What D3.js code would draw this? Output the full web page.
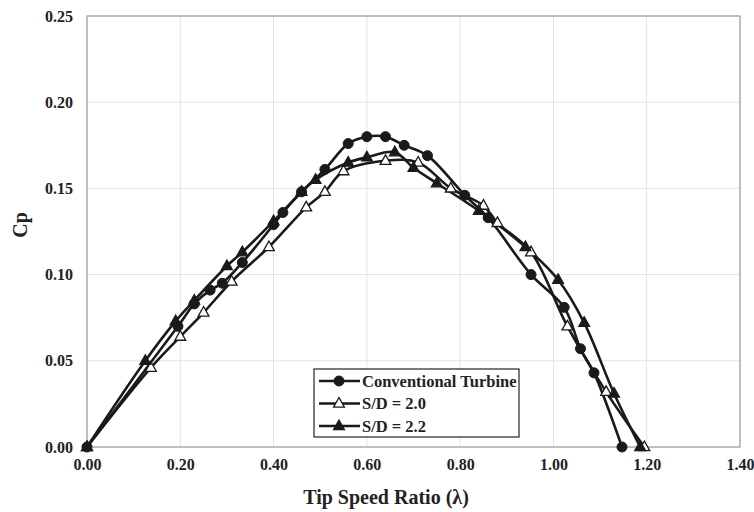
<!DOCTYPE html>
<html>
<head>
<meta charset="utf-8">
<script src="https://d3js.org/d3.v7.min.js"></script>
<style>
	body { margin: 0; background: #fff; }
	svg text { font-family: "Liberation Serif", "Times New Roman", serif; font-weight: bold; fill: #222; }
</style>
</head>
<body>
<div id="chart"></div>
<script>
// データ
const convLambda = [0, 0.195, 0.23, 0.264, 0.29, 0.333, 0.40, 0.42, 0.46, 0.51, 0.56, 0.60, 0.64, 0.68, 0.73, 0.81, 0.86, 0.952, 1.023, 1.058, 1.087, 1.147];
const convCp     = [0, 0.070, 0.083, 0.091, 0.095, 0.107, 0.129, 0.136, 0.148, 0.161, 0.176, 0.180, 0.180, 0.175, 0.169, 0.146, 0.133, 0.100, 0.081, 0.057, 0.043, 0];

const sd20Lambda = [0, 0.137, 0.20, 0.25, 0.31, 0.39, 0.47, 0.51, 0.55, 0.64, 0.71, 0.78, 0.85, 0.88, 0.952, 1.03, 1.113, 1.195];
const sd20Cp     = [0, 0.046, 0.064, 0.078, 0.096, 0.116, 0.139, 0.148, 0.160, 0.166, 0.165, 0.150, 0.140, 0.130, 0.113, 0.070, 0.032, 0];

const sd22Lambda = [0, 0.125, 0.19, 0.23, 0.30, 0.333, 0.40, 0.46, 0.49, 0.56, 0.60, 0.66, 0.70, 0.75, 0.84, 0.94, 1.01, 1.066, 1.13, 1.186];
const sd22Cp     = [0, 0.050, 0.073, 0.085, 0.105, 0.113, 0.131, 0.148, 0.155, 0.165, 0.168, 0.171, 0.162, 0.153, 0.137, 0.116, 0.097, 0.072, 0.031, 0];

const xTicks = [0, 0.2, 0.4, 0.6, 0.8, 1.0, 1.2, 1.4];
const yTicks = [0, 0.05, 0.10, 0.15, 0.20, 0.25];

const seriesNames = ['Conventional Turbine', 'S/D = 2.0', 'S/D = 2.2'];

const series = [
	{ name: seriesNames[0], marker: 'circle', xs: convLambda, ys: convCp },
	{ name: seriesNames[1], marker: 'openTri', xs: sd20Lambda, ys: sd20Cp },
	{ name: seriesNames[2], marker: 'filledTri', xs: sd22Lambda, ys: sd22Cp }
];

const width = 754, height = 512;
const margin = { left: 87, right: 14, top: 16, bottom: 65 };

const svg = d3.select('#chart').append('svg')
	.attr('width', width)
	.attr('height', height);

const x = d3.scaleLinear().domain([0, 1.4]).range([margin.left, width - margin.right]);
const y = d3.scaleLinear().domain([0, 0.25]).range([height - margin.bottom, margin.top]);

// グリッド
svg.append('g')
	.selectAll('line')
	.data(xTicks)
	.enter().append('line')
	.attr('x1', d => x(d)).attr('x2', d => x(d))
	.attr('y1', y(0)).attr('y2', y(0.25))
	.style('stroke', '#e2e2e2').style('stroke-width', 1);
svg.append('g')
	.selectAll('line')
	.data(yTicks)
	.enter().append('line')
	.attr('x1', x(0)).attr('x2', x(1.4))
	.attr('y1', d => y(d)).attr('y2', d => y(d))
	.style('stroke', '#e2e2e2').style('stroke-width', 1);

// 枠
svg.append('rect')
	.attr('x', x(0)).attr('y', y(0.25))
	.attr('width', x(1.4) - x(0)).attr('height', y(0) - y(0.25))
	.style('fill', 'none').style('stroke', '#8c8c8c').style('stroke-width', 1);

// 軸ラベル
const xAxis = d3.axisBottom(x).tickValues(xTicks).tickFormat(d3.format('.2f')).tickSize(0).tickPadding(12);
const gx = svg.append('g').attr('transform', `translate(0,${y(0)})`).call(xAxis);
gx.select('.domain').remove();
gx.selectAll('text').style('font-size', '16px').style('font-family', '"Liberation Serif", serif');

const yAxis = d3.axisLeft(y).tickValues(yTicks).tickFormat(d3.format('.2f')).tickSize(0).tickPadding(14);
const gy = svg.append('g').attr('transform', `translate(${x(0)},0)`).call(yAxis);
gy.select('.domain').remove();
gy.selectAll('text').style('font-size', '16px').style('font-family', '"Liberation Serif", serif');

svg.append('text')
	.attr('x', 386)
	.attr('y', 504)
	.attr('text-anchor', 'middle')
	.style('font-size', '20px')
	.text('Tip Speed Ratio (λ)');

svg.append('text')
	.attr('transform', `translate(27,225) rotate(-90)`)
	.attr('text-anchor', 'middle')
	.style('font-size', '20px')
	.text('Cp');

// マーカー描画
function drawMarker(g, type, cx, cy) {
	if (type === 'circle') {
		g.append('circle').attr('cx', cx).attr('cy', cy).attr('r', 5)
			.style('fill', '#1a1a1a').style('stroke', '#1a1a1a').style('stroke-width', 1);
	} else {
		const s = 6;
		const pts = [[cx, cy - s], [cx + s * 0.9, cy + s * 0.6], [cx - s * 0.9, cy + s * 0.6]];
		g.append('path').attr('d', 'M' + pts.join('L') + 'Z')
			.style('fill', type === 'openTri' ? '#fff' : '#1a1a1a')
			.style('stroke', '#1a1a1a').style('stroke-width', 1.3);
	}
}

const line = d3.line()
	.x(d => x(d[0]))
	.y(d => y(d[1]))
	.curve(d3.curveCatmullRom.alpha(0.5));

series.forEach(s => {
	const pts = s.xs.map((v, i) => [v, s.ys[i]]);
	svg.append('path')
		.datum(pts)
		.attr('d', line)
		.style('fill', 'none')
		.style('stroke', '#1a1a1a')
		.style('stroke-width', 2.6);
});
series.forEach(s => {
	const g = svg.append('g');
	s.xs.forEach((v, i) => drawMarker(g, s.marker, x(v), y(s.ys[i])));
});

// 凡例
const legend = svg.append('g').attr('transform', 'translate(314,369)');
legend.append('rect')
	.attr('width', 205).attr('height', 68)
	.style('fill', '#fff').style('stroke', '#222').style('stroke-width', 1.2);
series.forEach((s, i) => {
	const ly = 12 + i * 22.5;
	legend.append('line')
		.attr('x1', 5).attr('x2', 46).attr('y1', ly).attr('y2', ly)
		.style('stroke', '#1a1a1a').style('stroke-width', 2.6);
	drawMarker(legend, s.marker, 25, ly);
	legend.append('text')
		.attr('x', 48).attr('y', ly + 5.5)
		.style('font-size', '16.5px')
		.text(s.name);
});
</script>
</body>
</html>
